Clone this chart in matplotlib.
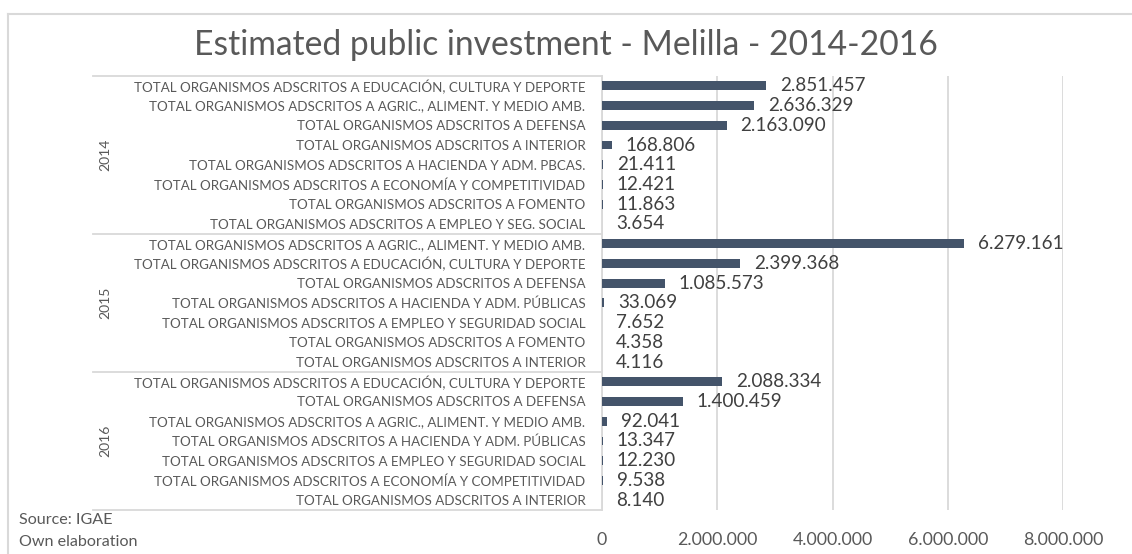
import matplotlib.pyplot as plt
from matplotlib.lines import Line2D

# data
years = ["2014", "2015", "2016"]
labels_2014 = [
    "TOTAL ORGANISMOS ADSCRITOS A EDUCACIÓN, CULTURA Y DEPORTE",
    "TOTAL ORGANISMOS ADSCRITOS A AGRIC., ALIMENT. Y MEDIO AMB.",
    "TOTAL ORGANISMOS ADSCRITOS A DEFENSA",
    "TOTAL ORGANISMOS ADSCRITOS A INTERIOR",
    "TOTAL ORGANISMOS ADSCRITOS A HACIENDA Y ADM. PBCAS.",
    "TOTAL ORGANISMOS ADSCRITOS A ECONOMÍA Y COMPETITIVIDAD",
    "TOTAL ORGANISMOS ADSCRITOS A FOMENTO",
    "TOTAL ORGANISMOS ADSCRITOS A EMPLEO Y SEG. SOCIAL",
]
values_2014 = [2851457, 2636329, 2163090, 168806, 21411, 12421, 11863, 3654]

labels_2015 = [
    "TOTAL ORGANISMOS ADSCRITOS A AGRIC., ALIMENT. Y MEDIO AMB.",
    "TOTAL ORGANISMOS ADSCRITOS A EDUCACIÓN, CULTURA Y DEPORTE",
    "TOTAL ORGANISMOS ADSCRITOS A DEFENSA",
    "TOTAL ORGANISMOS ADSCRITOS A HACIENDA Y ADM. PÚBLICAS",
    "TOTAL ORGANISMOS ADSCRITOS A EMPLEO Y SEGURIDAD SOCIAL",
    "TOTAL ORGANISMOS ADSCRITOS A FOMENTO",
    "TOTAL ORGANISMOS ADSCRITOS A INTERIOR",
]
values_2015 = [6279161, 2399368, 1085573, 33069, 7652, 4358, 4116]

labels_2016 = [
    "TOTAL ORGANISMOS ADSCRITOS A EDUCACIÓN, CULTURA Y DEPORTE",
    "TOTAL ORGANISMOS ADSCRITOS A DEFENSA",
    "TOTAL ORGANISMOS ADSCRITOS A AGRIC., ALIMENT. Y MEDIO AMB.",
    "TOTAL ORGANISMOS ADSCRITOS A HACIENDA Y ADM. PÚBLICAS",
    "TOTAL ORGANISMOS ADSCRITOS A EMPLEO Y SEGURIDAD SOCIAL",
    "TOTAL ORGANISMOS ADSCRITOS A ECONOMÍA Y COMPETITIVIDAD",
    "TOTAL ORGANISMOS ADSCRITOS A INTERIOR",
]
values_2016 = [2088334, 1400459, 92041, 13347, 12230, 9538, 8140]

x_ticks = [0, 2000000, 4000000, 6000000, 8000000]

groups = [labels_2014, labels_2015, labels_2016]
labels = labels_2014 + labels_2015 + labels_2016
values = values_2014 + values_2015 + values_2016


def fmt(v):
    return f"{v:,}".replace(",", ".")


plt.rcParams['font.family'] = ['Lato', 'DejaVu Sans']
W, H = 1132, 554
fig = plt.figure(figsize=(W / 100, H / 100), dpi=100)

# axes placed in pixel coords
left, right, top, bottom = 602, 1063, 76, 510
ax = fig.add_axes([left / W, 1 - bottom / H, (right - left) / W, (bottom - top) / H])

bar_color = "#44546A"
text_color = "#595959"
grid_color = "#D9D9D9"

n = len(labels)
ypos = list(range(n))
ax.barh(ypos, values, height=0.45, color=bar_color, zorder=3)
ax.set_ylim(n - 0.5, -0.5)
ax.set_xlim(0, 8000000)

for y, v in zip(ypos, values):
    ax.annotate(fmt(v), (v, y), xytext=(14, 0), textcoords="offset pixels",
                va="center", ha="left", fontsize=13.6, color="#404040")

ax.set_yticks(ypos)
ax.set_yticklabels(labels, fontsize=9.6, color=text_color)
ax.tick_params(axis="y", length=0, pad=12)
ax.set_xticks(x_ticks)
ax.set_xticklabels([fmt(t) for t in x_ticks], fontsize=12.8, color=text_color)
ax.tick_params(axis="x", length=0, pad=16)
ax.grid(axis="x", color=grid_color, linewidth=1.3, zorder=0)
for s in ["top", "right", "bottom"]:
    ax.spines[s].set_visible(False)
ax.spines["left"].set_color(grid_color)
ax.spines["left"].set_linewidth(1.3)

# group boxes for the years
box_left = 93
row_h = (bottom - top) / n
start = 0
fig_lines = [top]
for yr, g in zip(years, groups):
    end = start + len(g)
    y_mid = top + (start + end) / 2 * row_h
    fig.text(105 / W, 1 - y_mid / H, yr, rotation=90, ha="center", va="center",
             fontsize=10, color=text_color)
    fig_lines.append(top + end * row_h)
    start = end
for yl in fig_lines:
    fig.add_artist(Line2D([box_left / W, left / W], [1 - yl / H, 1 - yl / H],
                          color=grid_color, linewidth=1.3))

# title and notes
fig.text(566 / W, 1 - 45 / H, "Estimated public investment - Melilla - 2014-2016",
         ha="center", va="center", fontsize=24.2, color=text_color)
fig.text(19 / W, 1 - 520 / H, "Source: IGAE", ha="left", va="center",
         fontsize=11.6, color=text_color)
fig.text(19 / W, 1 - 542 / H, "Own elaboration", ha="left", va="center",
         fontsize=11.6, color=text_color)

# outer chart border (top and left visible)
fig.add_artist(Line2D([8 / W, 1], [1 - 14 / H, 1 - 14 / H], color=grid_color, linewidth=1.5))
fig.add_artist(Line2D([8 / W, 8 / W], [0, 1 - 14 / H], color=grid_color, linewidth=1.5))

fig.savefig("out.png", dpi=100)
